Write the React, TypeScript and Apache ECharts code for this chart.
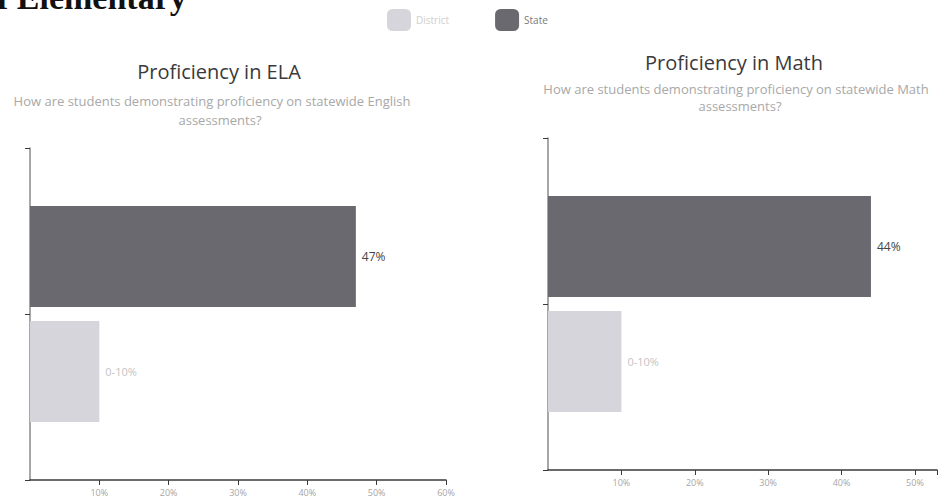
import React, { useEffect, useRef } from "react";
import * as echarts from "echarts";

const seriesNames = ["District", "State"];
const elaValues = { District: 10, State: 47 };
const mathValues = { District: 10, State: 44 };
const valueLabels = { District: "0-10%", State: null as string | null };
const categories = ["Proficiency"];
const decoCategories = ["District", "State"];
const elaTicksMax = 60;
const mathTicksMax = 53;
const tickInterval = 10;

const FONT = "'Open Sans', 'Noto Sans', sans-serif";
const COLORS = { District: "#d5d5db", State: "#69696f" };

export default function App() {
  const ref = useRef<HTMLDivElement>(null);
  useEffect(() => {
    if (!ref.current) return;
    const chart = echarts.init(ref.current, null, { renderer: "svg" });

    const grids = [
      { left: 30, right: 498, top: 148, bottom: 24 },
      { left: 548, right: 7, top: 138, bottom: 34 },
    ];
    const maxes = [elaTicksMax, mathTicksMax];
    const datasets: any[] = [elaValues, mathValues];

    const xAxis = grids.map((_, i) => ({
      type: "value",
      gridIndex: i,
      min: 0,
      max: maxes[i],
      interval: tickInterval,
      axisLine: { show: true, lineStyle: { color: "#3a3a3a", width: 1.5 } },
      axisTick: { show: true, length: 5, lineStyle: { color: "#3a3a3a" } },
      axisLabel: {
        color: "#a6a6a6",
        fontSize: 9,
        fontFamily: FONT,
        showMinLabel: false,
        formatter: (v: number) => (v % tickInterval === 0 ? v + "%" : ""),
      },
      splitLine: { show: false },
    }));

    const yAxis: any[] = [];
    grids.forEach((_, i) => {
      yAxis.push({
        type: "category",
        gridIndex: i,
        data: categories,
        axisLine: { show: false },
        axisTick: { show: false },
        axisLabel: { show: false },
      });
      yAxis.push({
        type: "category",
        gridIndex: i,
        data: decoCategories,
        position: "left",
        axisLine: { show: true, lineStyle: { color: "#8a8a8a", width: 1.5 } },
        axisTick: { show: true, length: 5, lineStyle: { color: "#3a3a3a" } },
        axisLabel: { show: false },
      });
    });

    // ECharts stacks horizontal bar series top-down: State first so it sits on top
    const drawOrder = ["State", "District"];
    const series: any[] = [];
    grids.forEach((_, i) => {
      drawOrder.forEach((name) => {
        series.push({
          name,
          type: "bar",
          xAxisIndex: i,
          yAxisIndex: i * 2,
          data: [datasets[i][name]],
          barCategoryGap: "35%",
          barGap: "14%",
          itemStyle: { color: (COLORS as any)[name] },
          label: {
            show: true,
            position: "right",
            distance: 6,
            fontFamily: FONT,
            fontSize: name === "State" ? 12 : 11,
            color: name === "State" ? "#444" : "#c4c4c4",
            formatter: (p: any) => (valueLabels as any)[name] ?? p.value + "%",
          },
        });
      });
    });

    const subColor = "#a8a8a8";
    const subFont = "13px " + FONT;
    const titleFont = "20px " + FONT;
    chart.setOption({
      animation: false,
      textStyle: { fontFamily: FONT },
      legend: {
        data: [
          { name: "District", textStyle: { color: "#cfcfcf" } },
          { name: "State", textStyle: { color: "#7a7a7a" } },
        ],
        left: 382,
        top: 4,
        itemWidth: 24,
        itemHeight: 22,
        itemGap: 46,
        textStyle: { fontSize: 10, fontFamily: FONT, color: "#777" },
        selectedMode: false,
      },
      grid: grids,
      xAxis,
      yAxis,
      series,
      graphic: [
        {
          type: "text",
          left: -3,
          top: -20,
          style: {
            text: "f Elementary",
            font: "bold 34px 'Liberation Serif', 'DejaVu Serif', serif",
            fill: "#111",
          },
        },
        {
          type: "text",
          x: 219,
          y: 71,
          style: { text: "Proficiency in ELA", font: titleFont, fill: "#3a3a3a", textAlign: "center", textVerticalAlign: "middle" },
        },
        {
          type: "text",
          x: 212,
          y: 101,
          style: { text: "How are students demonstrating proficiency on statewide English", font: subFont, fill: subColor, textAlign: "center", textVerticalAlign: "middle" },
        },
        {
          type: "text",
          x: 220,
          y: 120,
          style: { text: "assessments?", font: subFont, fill: subColor, textAlign: "center", textVerticalAlign: "middle" },
        },
        {
          type: "text",
          x: 734,
          y: 62,
          style: { text: "Proficiency in Math", font: titleFont, fill: "#3a3a3a", textAlign: "center", textVerticalAlign: "middle" },
        },
        {
          type: "text",
          x: 736,
          y: 89,
          style: { text: "How are students demonstrating proficiency on statewide Math", font: subFont, fill: subColor, textAlign: "center", textVerticalAlign: "middle" },
        },
        {
          type: "text",
          x: 740,
          y: 106,
          style: { text: "assessments?", font: subFont, fill: subColor, textAlign: "center", textVerticalAlign: "middle" },
        },
      ],
    });
    return () => chart.dispose();
  }, []);

  return (
    <div
      ref={ref}
      style={{ position: "fixed", left: 0, top: 0, width: 944, height: 504, background: "#fff" }}
    />
  );
}
